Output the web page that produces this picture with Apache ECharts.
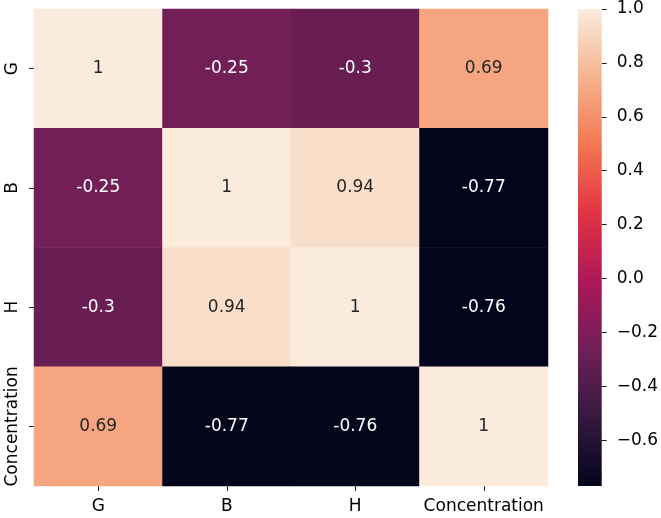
<!DOCTYPE html>
<html>
<head>
<meta charset="utf-8">
<script src="https://cdn.jsdelivr.net/npm/echarts@6/dist/echarts.min.js"></script>
<style>
  html, body { margin: 0; padding: 0; background: #fff; }
  #chart { width: 661px; height: 518px; }
</style>
</head>
<body>
<div id="chart"></div>
<script>
// data
const labels = ['G', 'B', 'H', 'Concentration'];
const corrG = [1, -0.25, -0.3, 0.69];
const corrB = [-0.25, 1, 0.94, -0.77];
const corrH = [-0.3, 0.94, 1, -0.76];
const corrConc = [0.69, -0.77, -0.76, 1];
const colorbarTicks = [-0.6, -0.4, -0.2, 0.0, 0.2, 0.4, 0.6, 0.8, 1.0];
const vMin = -0.77;
const vMax = 1.0;

// seaborn "rocket"
const rocket = ['#03051a', '#35193e', '#701f57', '#ad1759', '#e13342', '#f37651', '#f6b48f', '#faebdd'];
const FONT = 'DejaVu Sans';
const FS = 17;

const rows = [corrG, corrB, corrH, corrConc];
const heatData = [];
rows.forEach((row, y) => {
  row.forEach((v, x) => {
    const t = (v - vMin) / (vMax - vMin);
    heatData.push({
      value: [x, y, v],
      label: { color: t > 0.75 ? '#262626' : '#ffffff' }
    });
  });
});

const chart = echarts.init(document.getElementById('chart'));

const option = {
  backgroundColor: '#ffffff',
  animation: false,
  grid: [
    { left: 34, top: 9, width: 514, height: 477 },
    { left: 578, top: 9, width: 25, height: 477 }
  ],
  xAxis: [
    {
      type: 'category', gridIndex: 0, data: labels,
      axisLine: { show: false },
      axisTick: { show: true, alignWithLabel: true, length: 5, lineStyle: { color: '#222' } },
      axisLabel: { interval: 0, margin: 12, fontFamily: FONT, fontSize: FS, color: '#000' },
      splitArea: { show: false }
    },
    {
      type: 'category', gridIndex: 1, data: [''],
      axisLine: { show: false }, axisTick: { show: false }, axisLabel: { show: false }
    }
  ],
  yAxis: [
    {
      type: 'category', gridIndex: 0, data: labels, inverse: true,
      axisLine: { show: false },
      axisTick: { show: true, alignWithLabel: true, length: 5, lineStyle: { color: '#222' } },
      axisLabel: { interval: 0, margin: 13, rotate: 90, fontFamily: FONT, fontSize: FS, color: '#000' }
    },
    {
      type: 'value', gridIndex: 1, position: 'right', min: vMin, max: vMax,
      splitLine: { show: false },
      axisLine: { show: false },
      axisTick: { show: true, length: 5, lineStyle: { color: '#222' }, customValues: colorbarTicks },
      axisLabel: {
        margin: 15, fontFamily: FONT, fontSize: FS, color: '#000',
        customValues: colorbarTicks,
        formatter: v => v.toFixed(1).replace('-', '\u2212')
      }
    }
  ],
  visualMap: {
    show: false,
    type: 'continuous',
    seriesIndex: 0,
    dimension: 2,
    min: vMin,
    max: vMax,
    inRange: { color: rocket }
  },
  series: [
    {
      type: 'heatmap',
      xAxisIndex: 0, yAxisIndex: 0,
      data: heatData,
      itemStyle: { borderWidth: 0 },
      label: { show: true, fontFamily: FONT, fontSize: FS, formatter: p => String(p.value[2]) },
      emphasis: { disabled: true }
    },
    {
      type: 'custom',
      xAxisIndex: 1, yAxisIndex: 1,
      data: [[0, vMax]],
      renderItem: function (params, api) {
        const top = api.coord([0, vMax]);
        const bottom = api.coord([0, vMin]);
        const w = api.size([1, 0])[0];
        const stops = rocket.map((c, i) => ({ offset: 1 - i / (rocket.length - 1), color: c }));
        return {
          type: 'rect',
          shape: { x: top[0] - w / 2, y: top[1], width: w, height: bottom[1] - top[1] },
          style: { fill: new echarts.graphic.LinearGradient(0, 0, 0, 1, stops) }
        };
      },
      silent: true
    }
  ]
};

chart.setOption(option);
</script>
</body>
</html>
